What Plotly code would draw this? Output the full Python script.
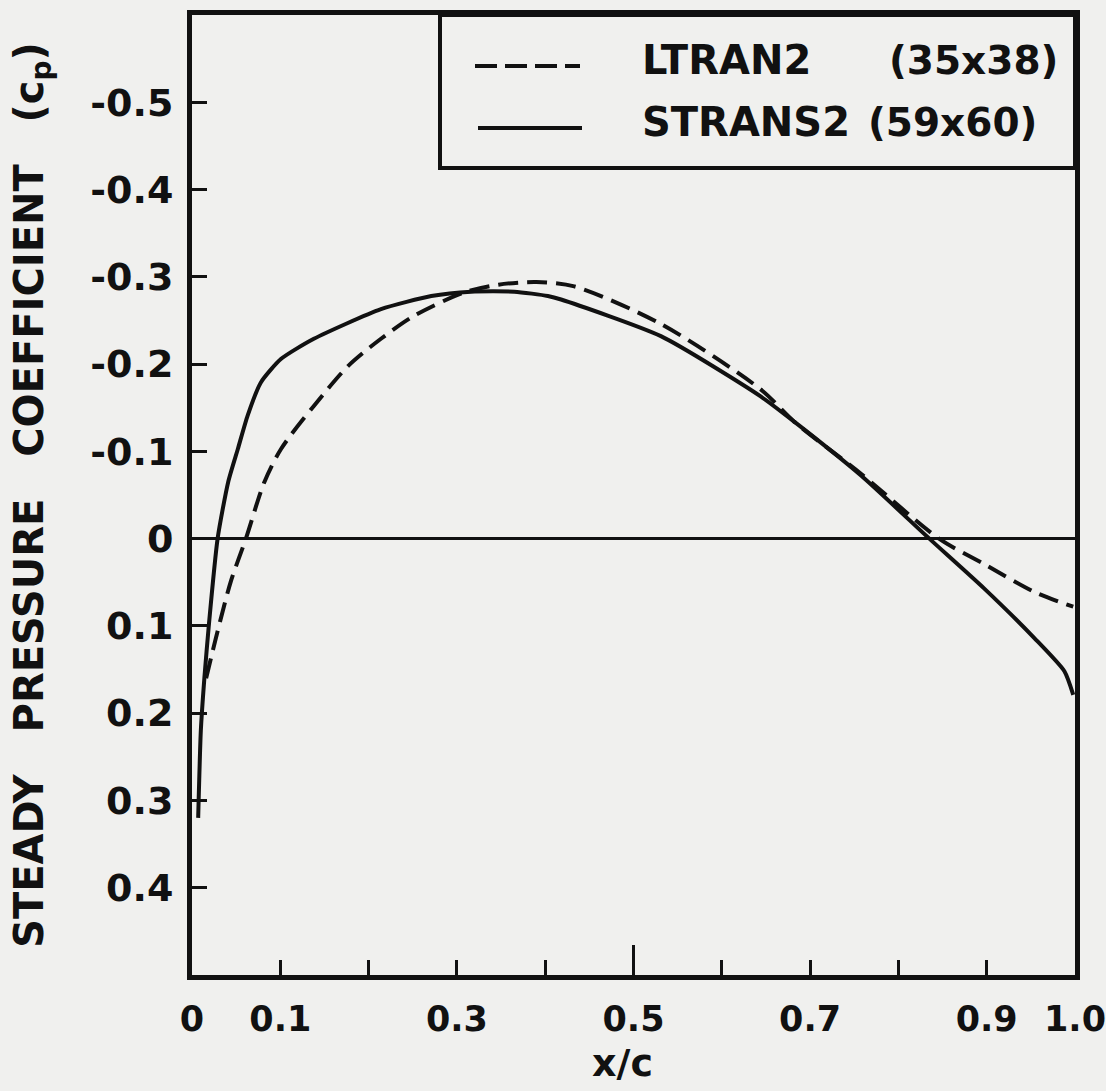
import plotly.graph_objects as go

# --- data ---
ltran2_x = [0.016, 0.029, 0.044, 0.061, 0.082, 0.101, 0.138, 0.177, 0.214, 0.251,
            0.308, 0.347, 0.390, 0.433, 0.531, 0.644, 0.682, 0.758, 0.846, 0.897,
            0.954, 0.998]
ltran2_cp = [0.160, 0.106, 0.049, 0.000, -0.065, -0.103, -0.152, -0.198, -0.229, -0.255,
             -0.282, -0.291, -0.294, -0.289, -0.246, -0.171, -0.134, -0.074, 0.000, 0.029,
             0.061, 0.078]

strans2_x = [0.007, 0.010, 0.014, 0.019, 0.029, 0.041, 0.052, 0.063, 0.078, 0.101,
             0.138, 0.214, 0.271, 0.316, 0.365, 0.403, 0.418, 0.531, 0.644, 0.682,
             0.758, 0.835, 0.897, 0.954, 0.988, 0.998]
strans2_cp = [0.320, 0.220, 0.160, 0.100, 0.000, -0.065, -0.103, -0.141, -0.179, -0.206,
              -0.229, -0.263, -0.278, -0.283, -0.283, -0.278, -0.274, -0.232, -0.163, -0.134,
              -0.072, 0.000, 0.057, 0.114, 0.152, 0.179]

x_tickvals = [0, 0.1, 0.3, 0.5, 0.7, 0.9, 1.0]
x_ticktext = ["0", "0.1", "0.3", "0.5", "0.7", "0.9", "1.0"]
x_minor = [0.2, 0.4, 0.6, 0.8]
y_tickvals = [-0.5, -0.4, -0.3, -0.2, -0.1, 0, 0.1, 0.2, 0.3, 0.4]
y_ticktext = ["-0.5", "-0.4", "-0.3", "-0.2", "-0.1", "0", "0.1", "0.2", "0.3", "0.4"]

legend_names = ["LTRAN2", "STRANS2"]
legend_sizes = ["(35x38)", "(59x60)"]

INK = "#111111"
PAPER = "#f0f0ee"
FONT = "DejaVu Sans"

W, H = 1106, 1091
L, R, T, B = 192, 1075, 15, 975

def px(xp):
    return (xp - L) / (R - L)

def py(yp):
    return (B - yp) / (B - T)

fig = go.Figure()
fig.add_trace(go.Scatter(x=ltran2_x, y=ltran2_cp, mode="lines",
                         line=dict(color=INK, width=4, dash="20px,9px", shape="spline", smoothing=0.8),
                         showlegend=False, hoverinfo="skip"))
fig.add_trace(go.Scatter(x=strans2_x, y=strans2_cp, mode="lines",
                         line=dict(color=INK, width=4, shape="spline", smoothing=0.6),
                         showlegend=False, hoverinfo="skip"))

fig.update_layout(
    width=W, height=H,
    margin=dict(l=L, r=W - R, t=T, b=H - B, pad=0, autoexpand=False),
    paper_bgcolor=PAPER, plot_bgcolor=PAPER,
    font=dict(family=FONT, color=INK),
    showlegend=False,
)

fig.update_xaxes(
    range=[0, 1], showgrid=False, zeroline=False, automargin=False,
    showline=True, mirror=True, linecolor=INK, linewidth=5,
    tickmode="array", tickvals=x_tickvals, ticktext=x_ticktext,
    ticks="inside", ticklen=15, tickwidth=3, tickcolor=INK,
    minor=dict(tickmode="array", tickvals=x_minor, ticks="inside", ticklen=15, tickwidth=3, tickcolor=INK),
    tickfont=dict(family=FONT, size=35, color=INK, weight="bold"),
    ticklabelstandoff=9, ticklabeloverflow="allow",
)
fig.update_yaxes(
    range=[0.5, -0.6], showgrid=False, automargin=False,
    zeroline=True, zerolinecolor=INK, zerolinewidth=3,
    showline=True, mirror=True, linecolor=INK, linewidth=5,
    tickmode="array", tickvals=y_tickvals, ticktext=y_ticktext,
    ticks="inside", ticklen=15, tickwidth=3, tickcolor=INK,
    tickfont=dict(family=FONT, size=38, color=INK, weight="bold"),
    ticklabelstandoff=6, ticklabeloverflow="allow",
    title=dict(text="STEADY\u00a0\u00a0\u00a0PRESSURE\u00a0\u00a0\u00a0COEFFICIENT\u00a0\u00a0\u00a0(c<sub>p</sub>)",
               font=dict(family=FONT, size=40, color=INK, weight="bold"), standoff=36),
)

# x-axis title
fig.add_annotation(xref="paper", yref="paper", x=px(622), y=py(1063), text="x/c", showarrow=False,
                   xanchor="center", yanchor="middle",
                   font=dict(family=FONT, size=38, color=INK, weight="bold"))

# tall tick at 0.5
fig.add_shape(type="line", xref="x", yref="paper", x0=0.5, x1=0.5, y0=0, y1=30 / (B - T),
              line=dict(color=INK, width=3))

# legend box
fig.add_shape(type="rect", xref="paper", yref="paper",
              x0=px(440), x1=1, y0=py(168), y1=1,
              line=dict(color=INK, width=4), fillcolor=PAPER, layer="above")
fig.add_shape(type="line", xref="paper", yref="paper", x0=px(475), x1=px(580), y0=py(66), y1=py(66),
              line=dict(color=INK, width=4, dash="22px,8px"))
fig.add_shape(type="line", xref="paper", yref="paper", x0=px(478), x1=px(582), y0=py(128), y1=py(128),
              line=dict(color=INK, width=4))
for i, (nm, sz, xs) in enumerate(zip(legend_names, legend_sizes, [887, 866])):
    yy = [60, 122][i]
    fig.add_annotation(xref="paper", yref="paper", x=px(640), y=py(yy), text=nm, showarrow=False,
                       xanchor="left", yanchor="middle",
                       font=dict(family=FONT, size=40, color=INK, weight="bold"))
    fig.add_annotation(xref="paper", yref="paper", x=px(xs), y=py(yy), text=sz, showarrow=False,
                       xanchor="left", yanchor="middle",
                       font=dict(family=FONT, size=39, color=INK, weight="bold"))

fig.write_html("out.html")
